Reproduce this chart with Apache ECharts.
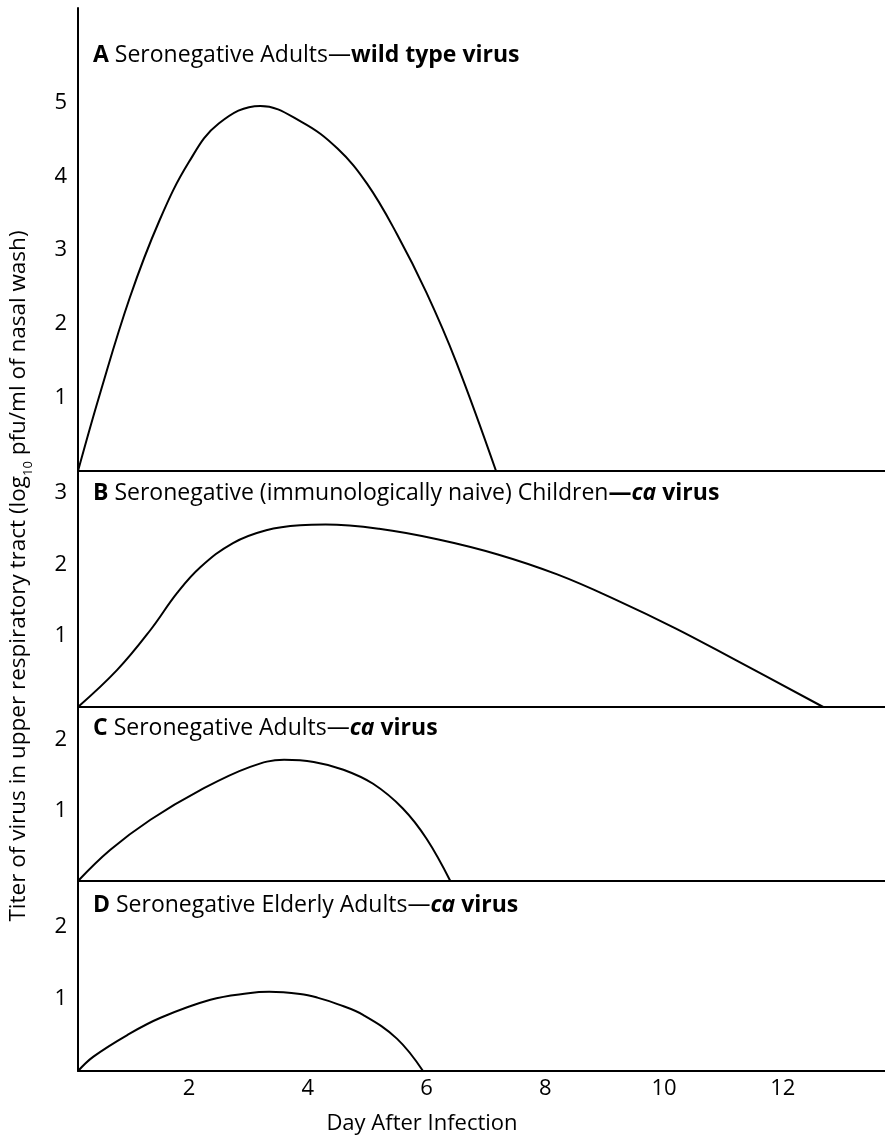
<!DOCTYPE html>
<html>
<head>
<meta charset="utf-8">
<script src="https://cdn.jsdelivr.net/npm/echarts@6/dist/echarts.min.js"></script>
<style>
  html, body { margin: 0; padding: 0; background: #fff; }
  #chart { width: 885px; height: 1135px; }
</style>
</head>
<body>
<div id="chart"></div>
<script>
// ---- data ----
const dayTicks = [2, 4, 6, 8, 10, 12];

const daysA  = [0.13, 0.5, 1.0, 1.5, 2.0, 2.5, 3.2, 3.9, 4.5, 5.0, 5.5, 6.0, 6.5, 7.17];
const titerA = [0, 1.05, 2.35, 3.4, 4.2, 4.72, 4.96, 4.74, 4.38, 3.9, 3.22, 2.42, 1.48, 0];
const ticksA = [1, 2, 3, 4, 5];

const daysB  = [0.13, 0.79, 1.35, 1.8, 2.19, 2.74, 3.3, 3.87, 4.3, 5.2, 6.2, 7.2, 8.2, 9.2, 10.2, 11.2, 12.68];
const titerB = [0, 0.52, 1.08, 1.6, 1.96, 2.3, 2.48, 2.55, 2.56, 2.5, 2.35, 2.14, 1.86, 1.5, 1.1, 0.66, 0];
const ticksB = [1, 2, 3];

const daysC  = [0.13, 0.67, 1.35, 2.19, 3.03, 3.6, 4.1, 4.6, 5.1, 5.6, 6.0, 6.4];
const titerC = [0, 0.44, 0.87, 1.29, 1.62, 1.72, 1.69, 1.58, 1.38, 1.03, 0.6, 0];
const ticksC = [1, 2];

const daysD  = [0.13, 0.39, 0.96, 1.52, 2.36, 3.0, 3.35, 3.87, 4.16, 4.5, 4.93, 5.5, 5.94];
const titerD = [0, 0.2, 0.5, 0.74, 0.99, 1.08, 1.1, 1.07, 1.02, 0.93, 0.78, 0.45, 0];
const ticksD = [1, 2];

const panelLetters = ['A', 'B', 'C', 'D'];
const panelTexts = [
  '{n| Seronegative Adults—}{b|wild type virus}',
  '{n| Seronegative (immunologically naive) Children}{b|—}{bi|ca}{b| virus}',
  '{n| Seronegative Adults—}{bi|ca}{b| virus}',
  '{n| Seronegative Elderly Adults—}{bi|ca}{b| virus}'
];
const xTitle = 'Day After Infection';
const yTitleParts = ['Titer of virus in upper respiratory tract (log', '10', ' pfu/ml of nasal wash)'];

// ---- layout ----
const FONT = 'Open Sans';
const FS = 23;
const xMin = 0.13, xMax = 13.72;
const panels = [
  { top: 8,   height: 463, yMax: 6.29, days: daysA, titer: titerA, ticks: ticksA, labelY: 55 },
  { top: 471, height: 236, yMax: 3.31, days: daysB, titer: titerB, ticks: ticksB, labelY: 493 },
  { top: 707, height: 174, yMax: 2.47, days: daysC, titer: titerC, ticks: ticksC, labelY: 728 },
  { top: 881, height: 190, yMax: 2.64, days: daysD, titer: titerD, ticks: ticksD, labelY: 905 }
];

const grid = [], xAxis = [], yAxis = [], series = [], graphic = [];
const rich = {
  l:  { fontFamily: FONT, fontSize: FS, fontWeight: 'bold', color: '#000' },
  n:  { fontFamily: FONT, fontSize: FS, color: '#000' },
  b:  { fontFamily: FONT, fontSize: FS, fontWeight: 'bold', color: '#000' },
  bi: { fontFamily: FONT, fontSize: FS, fontWeight: 'bold', fontStyle: 'italic', color: '#000' }
};

panels.forEach((p, i) => {
  const last = i === panels.length - 1;
  grid.push({ left: 78, right: 0, top: p.top, height: p.height, containLabel: false });
  xAxis.push({
    type: 'value', gridIndex: i, min: xMin, max: xMax,
    axisLine: { show: true, onZero: false, lineStyle: { color: '#000', width: 2 } },
    axisTick: { show: false },
    splitLine: { show: false },
    axisLabel: last ? {
      show: true, customValues: dayTicks, margin: 7,
      fontFamily: FONT, fontSize: 22, color: '#000'
    } : { show: false }
  });
  yAxis.push({
    type: 'value', gridIndex: i, min: 0, max: p.yMax,
    axisLine: { show: true, onZero: false, lineStyle: { color: '#000', width: 2 } },
    axisTick: { show: false },
    splitLine: { show: false },
    axisLabel: {
      show: true, customValues: p.ticks, margin: 11,
      fontFamily: FONT, fontSize: 22, color: '#000'
    }
  });
  series.push({
    type: 'line', xAxisIndex: i, yAxisIndex: i,
    data: p.days.map((d, k) => [d, p.titer[k]]),
    smooth: 0.4, showSymbol: false, symbol: 'none',
    lineStyle: { color: '#000', width: 2 },
    silent: true, animation: false
  });
  graphic.push({
    type: 'text', x: 93, y: p.labelY, silent: true,
    style: {
      text: '{l|' + panelLetters[i] + '}' + panelTexts[i],
      rich: rich, align: 'left', verticalAlign: 'middle'
    }
  });
});

graphic.push({
  type: 'text', silent: true,
  x: 422, y: 1124,
  style: {
    text: xTitle, fontFamily: FONT, fontSize: 22, fill: '#000',
    align: 'center', verticalAlign: 'middle'
  }
});
graphic.push({
  type: 'text', silent: true,
  x: 19, y: 576, rotation: Math.PI / 2,
  style: {
    text: yTitleParts[0] + '{s|' + yTitleParts[1] + '}' + yTitleParts[2],
    fontFamily: FONT, fontSize: 22.5, fill: '#000',
    align: 'center', verticalAlign: 'middle',
    rich: { s: { fontFamily: FONT, fontSize: 13, verticalAlign: 'bottom', lineHeight: 32, fill: '#000' } }
  }
});

const chart = echarts.init(document.getElementById('chart'), null, { renderer: 'canvas' });
chart.setOption({
  animation: false,
  backgroundColor: '#fff',
  grid, xAxis, yAxis, series, graphic
});
</script>
</body>
</html>
